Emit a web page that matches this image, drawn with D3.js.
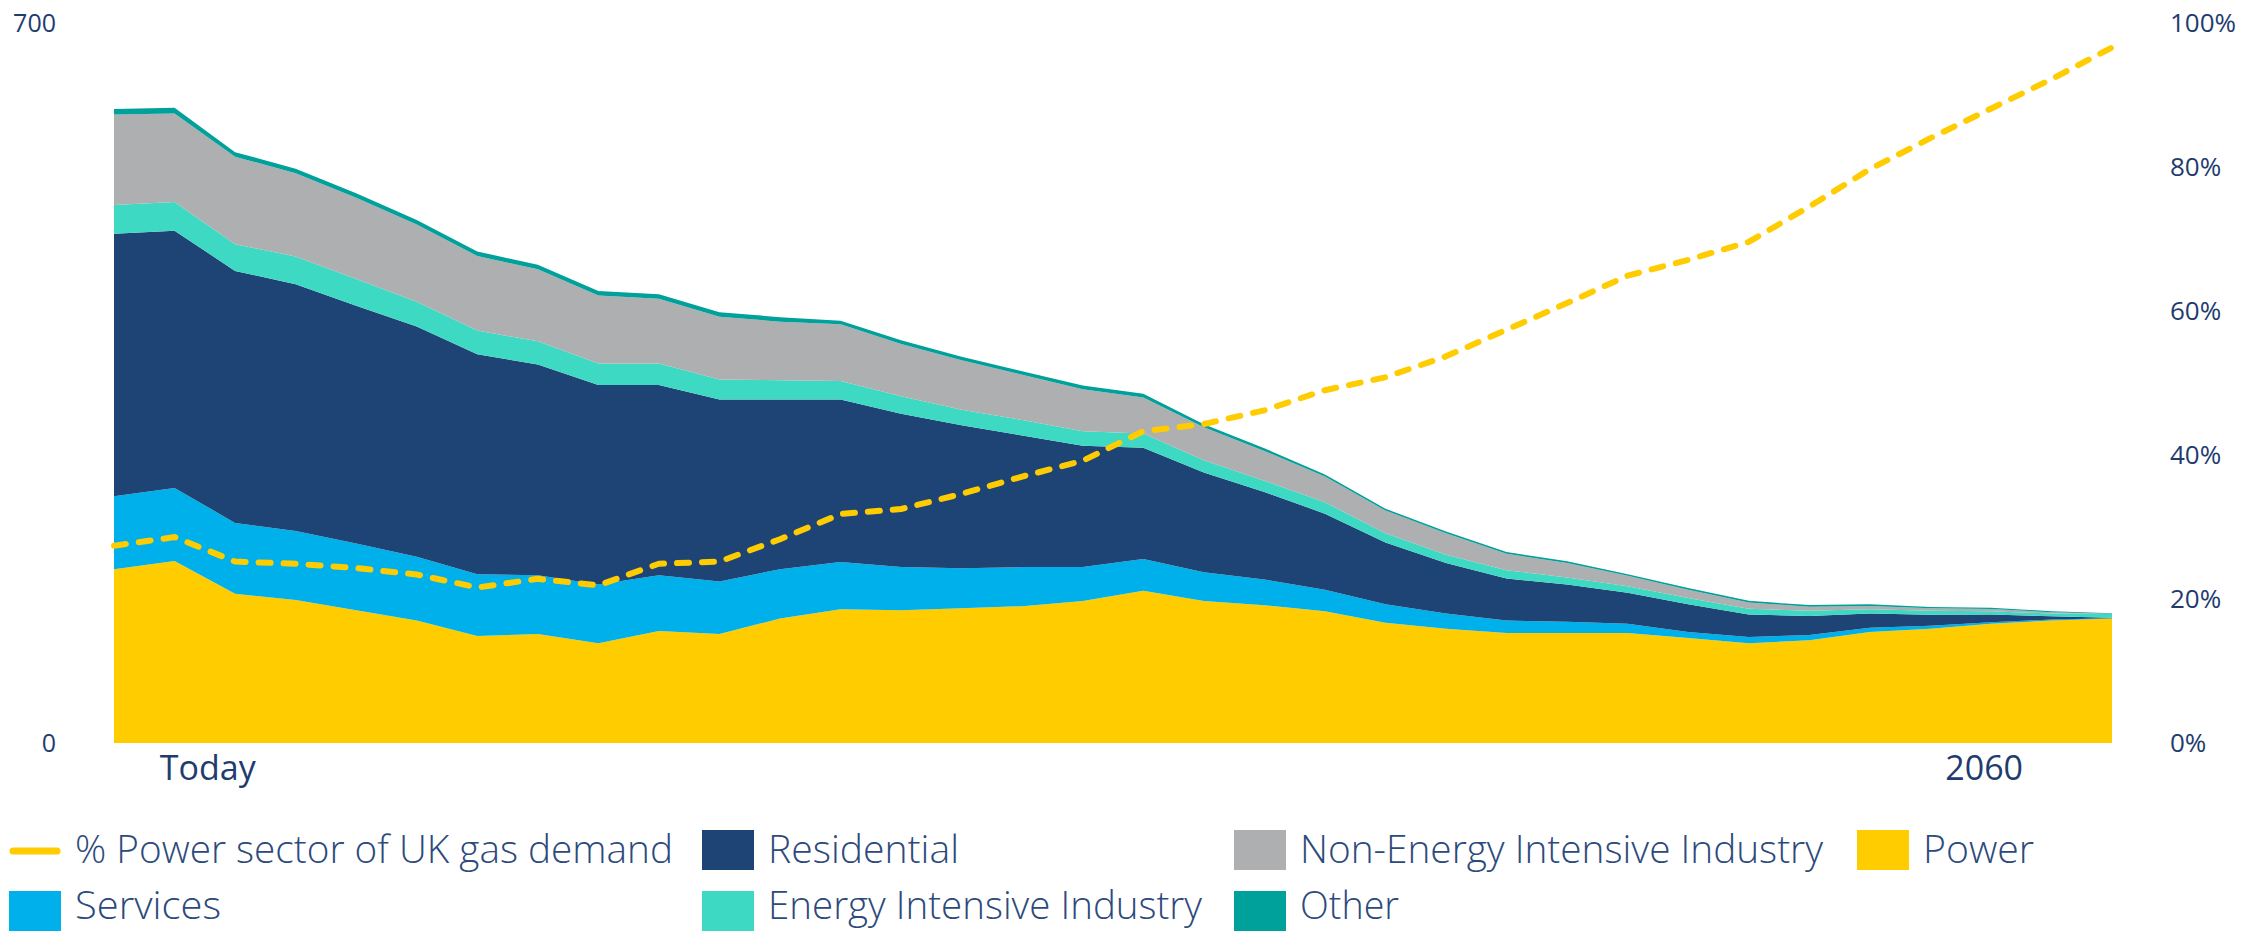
<!DOCTYPE html>
<html><head><meta charset="utf-8">
<script src="https://cdn.jsdelivr.net/npm/d3@7"></script>
<style>html,body{margin:0;padding:0;background:#fff;} svg{display:block;}</style>
</head><body><svg id="chart" width="2242" height="932"></svg>
<script>
// ---- Data ----
const periods = [0,1,2,3,4,5,6,7,8,9,10,11,12,13,14,15,16,17,18,19,20,21,22,23,24,25,26,27,28,29,30,31,32,33];
const power       = [169,177,145,139,129,119,104,106,97,109,106,121,130,129,131,133,138,148,138,134,128,117,111,107,107,107,102,97,100,108,111,116,119,121];
const services    = [71,71,69,67,65,62,60,57,57,54,51,48,46,42,39,38,33,31,28,25,21,18,15,12,11,9,6,6,5,4,3,1.5,1,0.3];
const residential = [255,250,245,240,231,224,214,205,194,185,177,165,158,149,139,128,118,108,97,85,74,60,49,41,36,30,27,22,18.5,14,10.6,7.5,3.2,0.5];
const energyIntensive    = [28,28,26,27,26,24,23,22.5,21,21,19.5,18.6,18,17,15,15,14,14,12,11,11,9,8,8,7,6.5,6,5.6,5,4,4,3.2,2.6,3.5];
const nonEnergyIntensive = [88,86,85,81,79,75,72.5,70,66,63,61,57,55,51,48,44,41,35,32,29,25,22,21,16,14,10,8,6,4,3.2,2.3,2,1.3,0.3];
const other       = [5.5,5.5,4.4,4.4,4.4,4.4,4.4,4.4,4.4,4.4,4.4,4.4,3.5,3.5,3.5,3.5,3.5,3.5,3,2.5,2,1.8,1.6,1.6,1.6,1.6,1.6,1.6,1.6,1.6,1.3,1.3,1,0.5];
const powerShare  = [27.4,28.6,25.2,24.9,24.3,23.4,21.6,22.8,21.9,24.9,25.2,28.3,31.8,32.5,34.6,37,39.2,43.3,44.3,46.2,49,50.8,53.7,57.4,61.1,64.9,67.1,69.6,74.5,79.7,84,88.1,92.2,96.6];

const leftTicks  = [0, 700];
const rightTicks = [0, 20, 40, 60, 80, 100];
const xLabels    = ["Today", "2060"];
const xLabelAt   = [1.54, 30.88];

const seriesNames = ["Power","Services","Residential","Energy Intensive Industry","Non-Energy Intensive Industry","Other"];
const seriesColors = ["#FFCC00","#00B0EA","#1E4476","#3DD9C3","#AEAFB1","#00A19B"];
const lineName = "% Power sector of UK gas demand";
const lineColor = "#FFCC00";

// ---- Build table ----
const seriesValues = [power, services, residential, energyIntensive, nonEnergyIntensive, other];
const rows = periods.map((p, i) => {
  const r = {period: p};
  seriesNames.forEach((k, j) => r[k] = seriesValues[j][i]);
  return r;
});
const stacked = d3.stack().keys(seriesNames)(rows);

const svg = d3.select("#chart");
const x  = d3.scaleLinear().domain([0, 33]).range([114, 2112]);
const y  = d3.scaleLinear().domain([0, 700]).range([743, 23]);
const y2 = d3.scaleLinear().domain([0, 100]).range([743, 23]);
const color = d3.scaleOrdinal().domain(seriesNames).range(seriesColors);

const area = d3.area()
  .x(d => x(d.data.period))
  .y0(d => y(d[0]))
  .y1(d => y(d[1]));

svg.append("g").selectAll("path").data(stacked).join("path")
  .attr("d", area)
  .attr("fill", d => color(d.key));

const line = d3.line().x((d, i) => x(periods[i])).y(d => y2(d));
svg.append("path").datum(powerShare)
  .attr("d", line)
  .attr("fill", "none")
  .attr("stroke", lineColor)
  .attr("stroke-width", 6)
  .attr("stroke-linecap", "round")
  .attr("stroke-linejoin", "round")
  .attr("stroke-dasharray", "12,13");

// ---- Axes ----
const axisColor = "#1F3C6E";
const gl = svg.append("g").attr("transform", "translate(56,0)")
  .call(d3.axisLeft(y).tickValues(leftTicks).tickSize(0).tickPadding(0));
gl.select(".domain").remove();
gl.selectAll("text").attr("fill", axisColor).style("font-family", "'Open Sans', sans-serif").style("font-size", "25px");

const gr = svg.append("g").attr("transform", "translate(2170,0)")
  .call(d3.axisRight(y2).tickValues(rightTicks).tickFormat(d => d + "%").tickSize(0).tickPadding(0));
gr.select(".domain").remove();
gr.selectAll("text").attr("fill", axisColor).style("font-family", "'Open Sans', sans-serif").style("font-size", "26px");

const gb = svg.append("g").attr("transform", "translate(0,743)")
  .call(d3.axisBottom(x).tickValues(xLabelAt).tickFormat((d, i) => xLabels[i]).tickSize(0).tickPadding(13));
gb.select(".domain").remove();
gb.selectAll("text").attr("fill", axisColor).style("font-family", "'Open Sans', sans-serif").style("font-size", "34px");

// ---- Legend ----
const legendColor = "#2C4A7C";
const legendItems = [
  {name: lineName, type: "line", color: lineColor, x: 9, row: 0, w: 598},
  {name: "Residential", type: "rect", color: color("Residential"), x: 702, row: 0, w: 191},
  {name: "Non-Energy Intensive Industry", type: "rect", color: color("Non-Energy Intensive Industry"), x: 1234, row: 0, w: 523},
  {name: "Power", type: "rect", color: color("Power"), x: 1857, row: 0, w: 111},
  {name: "Services", type: "rect", color: color("Services"), x: 9, row: 1, w: 146},
  {name: "Energy Intensive Industry", type: "rect", color: color("Energy Intensive Industry"), x: 702, row: 1, w: 434},
  {name: "Other", type: "rect", color: color("Other"), x: 1234, row: 1, w: 99}
];
const rowTop = [830, 891];
const rowBase = [863, 919];
const lg = svg.append("g");
legendItems.forEach(it => {
  const top = rowTop[it.row];
  if (it.type === "line") {
    lg.append("line").attr("x1", it.x + 4).attr("x2", it.x + 48)
      .attr("y1", top + 21).attr("y2", top + 21)
      .attr("stroke", it.color).attr("stroke-width", 7).attr("stroke-linecap", "round");
  } else {
    lg.append("rect").attr("x", it.x).attr("y", top).attr("width", 52).attr("height", 40).attr("fill", it.color);
  }
  lg.append("text").attr("x", it.x + 66).attr("y", rowBase[it.row])
    .attr("fill", legendColor)
    .attr("textLength", it.w).attr("lengthAdjust", "spacingAndGlyphs")
    .style("font-family", "'Open Sans', sans-serif").style("font-weight", 300).style("font-size", "38px")
    .text(it.name);
});
</script></body></html>
